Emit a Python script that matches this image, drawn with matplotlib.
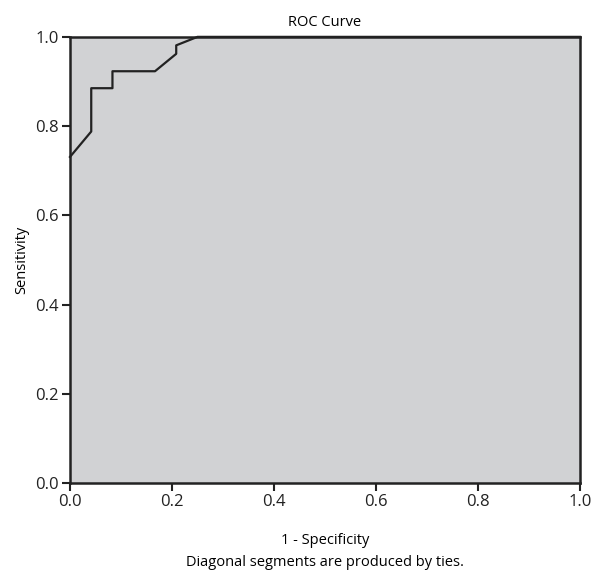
import matplotlib.pyplot as plt

# ROC curve points (1 - specificity, sensitivity)
fpr = [0.0, 0.0417, 0.0417, 0.0833, 0.0833, 0.1667, 0.2083, 0.2083, 0.25, 1.0]
tpr = [0.731, 0.788, 0.885, 0.885, 0.923, 0.923, 0.962, 0.981, 1.0, 1.0]
ticks = [0.0, 0.2, 0.4, 0.6, 0.8, 1.0]

plt.rcParams['font.family'] = ['Open Sans', 'DejaVu Sans']

fig = plt.figure(figsize=(5.98, 5.76), dpi=100)
ax = fig.add_axes([0.117, 0.161, 0.853, 0.775])
ax.set_facecolor('#d1d2d4')

ax.plot(fpr, tpr, color='#222222', linewidth=1.6, clip_on=False)

ax.set_xlim(0, 1)
ax.set_ylim(0, 1)
ax.set_xticks(ticks)
ax.set_yticks(ticks)
ax.set_xticklabels([f'{t:.1f}' for t in ticks])
ax.set_yticklabels([f'{t:.1f}' for t in ticks])
ax.tick_params(direction='out', length=6, width=1.5, labelsize=12, colors='#222222', pad=2)
for s in ax.spines.values():
    s.set_linewidth(1.8)
    s.set_color('#222222')

ax.set_title('ROC Curve', fontsize=10.5, pad=8)
ax.set_ylabel('Sensitivity', fontsize=10.5, labelpad=4)
fig.text(0.5435, 0.062, '1 - Specificity', ha='center', va='center', fontsize=10.5)
fig.text(0.5435, 0.024, 'Diagonal segments are produced by ties.', ha='center', va='center', fontsize=10.5)

fig.savefig('out.png', dpi=100)
